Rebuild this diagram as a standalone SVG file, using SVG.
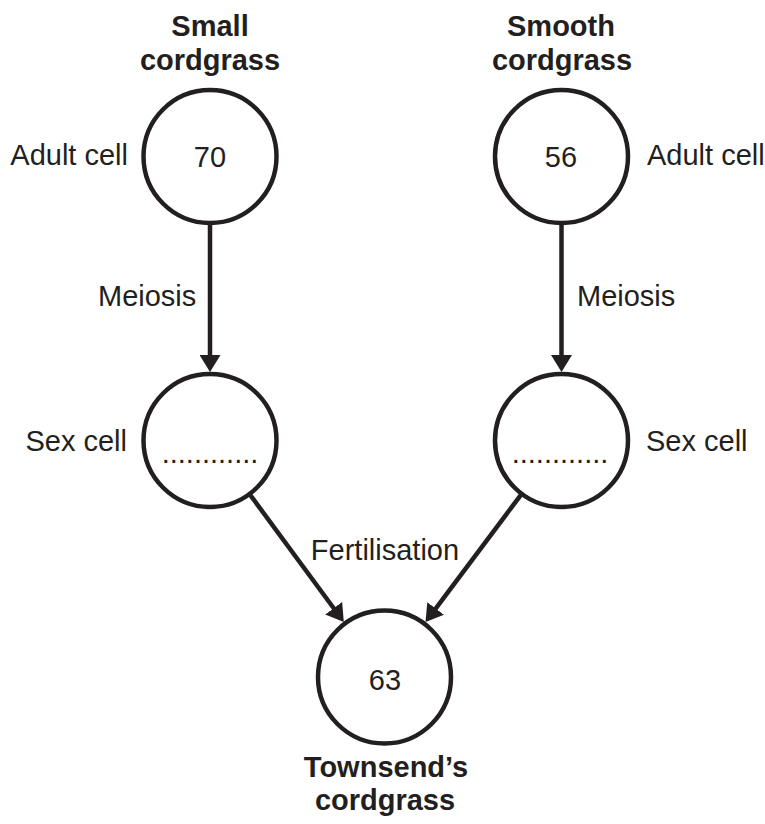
<svg xmlns="http://www.w3.org/2000/svg" width="765" height="824" viewBox="0 0 765 824">
<style>
.c{fill:#ffffff;stroke:#231f20;stroke-width:4.5}
.t{font-family:"Liberation Sans",Arial,sans-serif;font-size:29px;fill:#231f20}
.b{font-family:"Liberation Sans",Arial,sans-serif;font-size:29px;font-weight:bold;fill:#231f20}
.m{text-anchor:middle}
.e{text-anchor:end}
.l{fill:none;stroke:#231f20;stroke-width:4.5}
</style>
<defs>
<marker id="ah" markerUnits="userSpaceOnUse" viewBox="0 0 17 21" markerWidth="17" markerHeight="21" refX="1" refY="10.5" orient="auto">
<path d="M0,0 L17,10.5 L0,21 z" fill="#231f20"/>
</marker>
</defs>
<rect width="765" height="824" fill="#ffffff"/>
<g id="connectors">
<path class="l" d="M210,222 L210,356" marker-end="url(#ah)"/>
<path class="l" d="M561.5,222 L561.5,356" marker-end="url(#ah)"/>
<path class="l" d="M249.5,494 L334.3,609" marker-end="url(#ah)"/>
<path class="l" d="M521.7,493.8 L435.1,609.3" marker-end="url(#ah)"/>
<text class="t" x="98" y="306">Meiosis</text>
<text class="t" x="577" y="306">Meiosis</text>
<text class="t m" x="385" y="560">Fertilisation</text>
</g>
<g id="small">
<text class="b m" x="210" y="36">Small</text>
<text class="b m" x="210" y="70">cordgrass</text>
<circle class="c" cx="210" cy="156.5" r="66.5"/>
<text class="t m" x="210" y="167">70</text>
<text class="t e" x="128" y="165">Adult cell</text>
</g>
<g id="smooth">
<text class="b m" x="561" y="36">Smooth</text>
<text class="b m" x="562" y="70">cordgrass</text>
<circle class="c" cx="561.5" cy="156.5" r="66.5"/>
<text class="t m" x="561" y="167">56</text>
<text class="t" x="647" y="165">Adult cell</text>
</g>
<g id="sexleft">
<circle class="c" cx="210" cy="440.5" r="66.5"/>
<text class="t m" x="210" y="462.5">............</text>
<text class="t e" x="127" y="451">Sex cell</text>
</g>
<g id="sexright">
<circle class="c" cx="561.5" cy="440.5" r="66.5"/>
<text class="t m" x="560" y="462.5">............</text>
<text class="t" x="646" y="451">Sex cell</text>
</g>
<g id="townsend">
<circle class="c" cx="384.5" cy="677" r="66.5"/>
<text class="t m" x="385" y="690">63</text>
<text class="b m" x="386" y="777">Townsend’s</text>
<text class="b m" x="385" y="810">cordgrass</text>
</g>
</svg>
